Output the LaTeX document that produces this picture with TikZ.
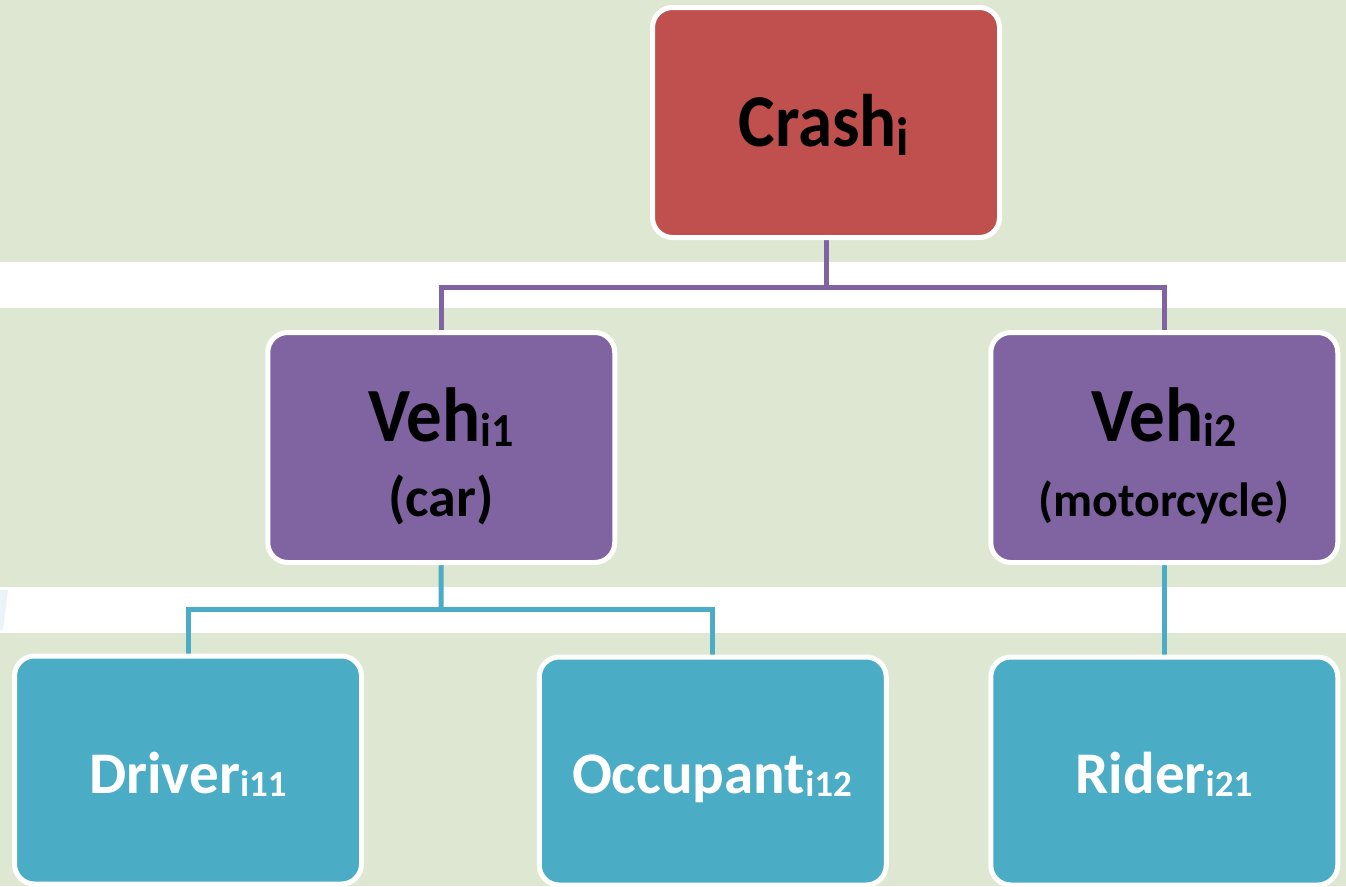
\documentclass[tikz,border=0pt]{standalone}
\usepackage{fontspec}
\setmainfont{Carlito}
\definecolor{bggreen}{HTML}{DEE7D2}
\definecolor{crashred}{HTML}{C0504D}
\definecolor{vehpurple}{HTML}{8064A2}
\definecolor{occteal}{HTML}{4BACC6}
\definecolor{faintblue}{HTML}{EAF3F8}
\pgfdeclarelayer{bands}
\pgfdeclarelayer{wires}
\pgfsetlayers{bands,wires,main}
\newcommand{\sbs}[3]{\raisebox{-#3}{\fontsize{#2}{#2}\selectfont #1}}
\newcommand{\tall}[1]{\scalebox{1}[1.08]{#1}}
\begin{document}
\begin{tikzpicture}[x=1pt,y=-1pt,
  box/.style={draw=white, line width=5pt, rounded corners=20pt,
    minimum width=347pt, minimum height=230pt, inner sep=0pt},
  crashbox/.style={box, fill=crashred},
  vehbox/.style={box, fill=vehpurple},
  perbox/.style={box, fill=occteal, minimum height=228pt},
  darktxt/.style={anchor=base, inner sep=0pt, text=black, font=\bfseries},
  lighttxt/.style={anchor=base, inner sep=0pt, text=white, font=\bfseries},
  pwire/.style={draw=vehpurple, line width=5pt},
  twire/.style={draw=occteal, line width=5pt}]
\useasboundingbox (0,0) rectangle (1346,886);
\begin{pgfonlayer}{bands}
  \fill[white] (0,0) rectangle (1346,886);
  \fill[bggreen] (0,0) rectangle (1346,262);
  \fill[bggreen] (0,308) rectangle (1346,587);
  \fill[bggreen] (0,633) rectangle (1346,886);
  \fill[faintblue] (0,590) -- (8,590) -- (3,630) -- (0,630) -- cycle;
\end{pgfonlayer}

% boxes
\node[crashbox] (crash) at (826,122.5) {};
\node[vehbox] (veh1) at (441.25,447.5) {};
\node[vehbox] (veh2) at (1164.25,447.5) {};
\node[perbox] (driver) at (188,770) {};
\node[perbox] (occupant) at (712.75,771) {};
\node[perbox] (rider) at (1164.25,771) {};

% texts
\node[darktxt] (crashlbl) at (824,146) {\tall{\fontsize{69}{69}\selectfont Crash\sbs{i}{50}{9pt}}};
\node[darktxt] (veh1lbl) at (441,441) {\tall{\fontsize{71}{71}\selectfont Veh\sbs{i1}{44}{5pt}}};
\node[darktxt] (veh1sub) at (441,516) {\fontsize{56}{56}\selectfont (car)};
\node[darktxt] (veh2lbl) at (1164,441) {\tall{\fontsize{71}{71}\selectfont Veh\sbs{i2}{44}{5pt}}};
\node[darktxt] (veh2sub) at (1164,516) {\fontsize{48}{48}\selectfont (motorcycle)};
\node[lighttxt] (driverlbl) at (188,793) {\fontsize{59}{59}\selectfont Driver\sbs{i11}{37}{3pt}};
\node[lighttxt] (occlbl) at (712,793) {\fontsize{59}{59}\selectfont Occupant\sbs{i12}{37}{3pt}};
\node[lighttxt] (riderlbl) at (1164,793) {\fontsize{59}{59}\selectfont Rider\sbs{i21}{37}{3pt}};

% connectors
\coordinate (pbus) at (826,287);
\coordinate (tbus) at (441,609);
\begin{pgfonlayer}{wires}
  \draw[pwire] (crash.south) -- (pbus);
  \draw[pwire] (pbus) -| (veh1.north);
  \draw[pwire] (pbus) -| (veh2.north);
  \draw[twire] (veh1.south) -- (tbus);
  \draw[twire] (tbus) -| (driver.north);
  \draw[twire] (tbus) -| (occupant.north);
  \draw[twire] (veh2.south) -- (rider.north);
\end{pgfonlayer}
\end{tikzpicture}
\end{document}
